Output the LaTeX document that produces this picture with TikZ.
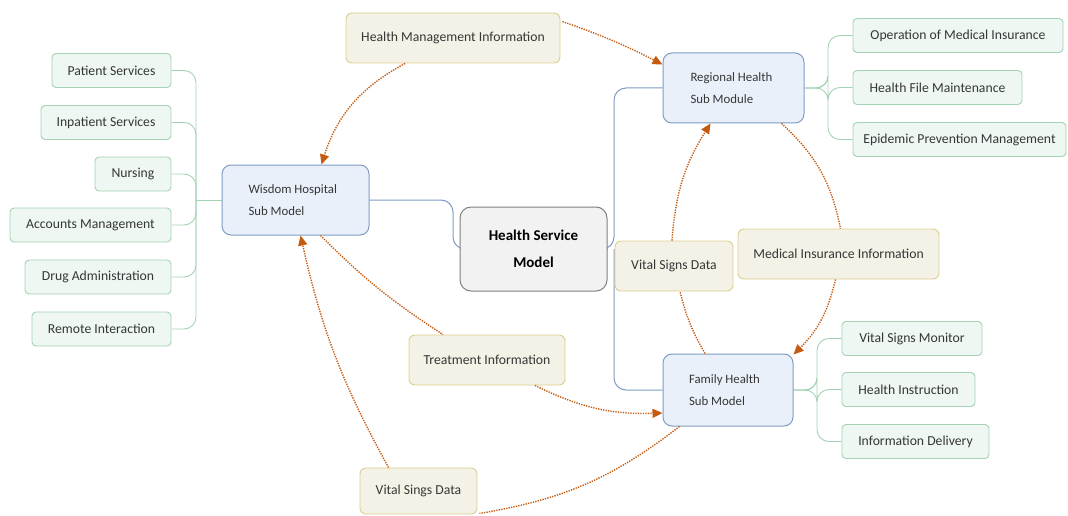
\documentclass[tikz,border=0pt]{standalone}
\usepackage{fontspec}
\setmainfont{Carlito}
\usetikzlibrary{arrows.meta,calc}
\definecolor{leaffill}{HTML}{EEF7F1}
\definecolor{leafline}{HTML}{A3D2B4}
\definecolor{bluefill}{HTML}{EAF0FA}
\definecolor{blueline}{HTML}{7E9CC3}
\definecolor{grayfill}{HTML}{F2F2F2}
\definecolor{grayline}{HTML}{808080}
\definecolor{beigefill}{HTML}{F4F2E6}
\definecolor{beigeline}{HTML}{DCCE8E}
\definecolor{flowcol}{HTML}{C55A11}
\definecolor{txt}{HTML}{363636}
\pgfdeclarelayer{bg}
\pgfsetlayers{bg,main}
\begin{document}
\begin{tikzpicture}[x=1pt,y=-1pt,
  leaf/.style={draw=leafline, fill=leaffill, line width=0.9pt, rounded corners=4pt,
    minimum height=34pt, inner sep=0pt, text=txt, font=\fontsize{13.7}{16}\selectfont},
  beige/.style={draw=beigeline, fill=beigefill, line width=0.9pt, rounded corners=6pt,
    minimum height=50pt, inner sep=0pt, text=txt, font=\fontsize{13.7}{16}\selectfont},
  sub/.style={draw=blueline, fill=bluefill, line width=1pt, rounded corners=9pt,
    minimum height=70pt, inner sep=0pt, text=txt, align=flush left,
    font=\fontsize{12.8}{22}\selectfont},
  root/.style={draw=grayline, fill=grayfill, line width=1pt, rounded corners=11pt,
    minimum width=147pt, minimum height=84pt, inner sep=0pt, text=black, align=center,
    font=\fontsize{15}{27}\selectfont\bfseries},
  leafwire/.style={draw=leafline, line width=0.9pt, rounded corners=12pt},
  bluewire/.style={draw=blueline, line width=1pt, rounded corners=12pt},
  flow/.style={draw=flowcol, line width=1.4pt, dash pattern=on 1.3pt off 1.2pt},
  flowarrow/.style={flow, -{Triangle[length=10pt,width=9pt]}}
]
\useasboundingbox (0,0) rectangle (1068,516);

% main nodes
\node[root] (hsm) at (533.5,249) {Health Service\\Model};
\node[sub, minimum width=147pt, text width=94pt] (ws) at (295.5,200) {Wisdom Hospital\\Sub Model};
\node[sub, minimum width=141pt, text width=86pt] (rh) at (733.5,88) {Regional Health\\Sub Module};
\node[sub, minimum width=130pt, minimum height=72pt, text width=78pt] (fh) at (728,390) {Family Health\\Sub Model};

% left leaves
\node[leaf, minimum width=119pt] (ps)   at (111.5,70.5) {Patient Services};
\node[leaf, minimum width=130pt] (ins)  at (106,122.5)  {Inpatient Services};
\node[leaf, minimum width=76pt]  (nur)  at (133,174)    {Nursing};
\node[leaf, minimum width=161pt] (acc)  at (90.5,225)   {Accounts Management};
\node[leaf, minimum width=146pt] (drug) at (98,277)     {Drug Administration};
\node[leaf, minimum width=139pt] (rem)  at (101.5,329)  {Remote Interaction};

% regional leaves
\node[leaf, minimum width=210pt] (omi) at (958,35.5)   {Operation of Medical Insurance};
\node[leaf, minimum width=169pt] (hfm) at (937.5,87.5) {Health File Maintenance};
\node[leaf, minimum width=213pt] (epm) at (959.5,139.5){Epidemic Prevention Management};

% family leaves
\node[leaf, minimum width=140pt] (vsm) at (912,338.5)   {Vital Signs Monitor};
\node[leaf, minimum width=133pt] (hi)  at (908.5,389.5) {Health Instruction};
\node[leaf, minimum width=147pt] (idl) at (915.5,441.5) {Information Delivery};

% beige labels
\node[beige, minimum width=214pt] (hmi)  at (453,38)    {Health Management Information};
\node[beige, minimum width=118pt] (vsd)  at (674,266)   {Vital Signs Data};
\node[beige, minimum width=201pt] (mii)  at (838.5,254) {Medical Insurance Information};
\node[beige, minimum width=156pt] (ti)   at (487,360)   {Treatment Information};
\node[beige, minimum width=117pt, minimum height=46pt] (vsd2) at (418.5,491) {Vital Sings Data};

% junction coordinates
\coordinate (wsj) at (196,200);
\coordinate (hsmj) at (453,249);
\coordinate (trunk) at (614,249);
\coordinate (rhj) at (828,88);
\coordinate (fhj) at (817,390);

\begin{pgfonlayer}{bg}
% left leaf wires
\foreach \n in {ps,ins,nur,acc,drug,rem}
  \draw[leafwire] (\n.east) -| (wsj);
\draw[leafwire] (wsj) -- (ws.west);
% regional leaf wires
\foreach \n in {omi,hfm,epm}
  \draw[leafwire] (rh.east) -- (rhj) |- (\n.west);
% family leaf wires
\foreach \n in {vsm,hi,idl}
  \draw[leafwire] (fh.east) -- (fhj) |- (\n.west);
% blue wires
\draw[bluewire] (ws.east) -| (hsmj) -- (hsm.west);
\draw[bluewire] (hsm.east) -- (trunk) |- (rh.west);
\draw[bluewire] (trunk) |- (fh.west);
\end{pgfonlayer}

% dotted flows
\draw[flowarrow] ($(hmi.south)+(-48,0)$) to[bend right=22] ($(ws.north)+(26,0)$);
\draw[flowarrow] ($(hmi.north east)+(2,9)$) to[bend left=4] ($(rh.north west)+(0,12)$);
\draw[flow] ($(rh.south)+(48,0)$) to[bend left=18] ($(mii.north)+(2,0)$);
\draw[flowarrow] ($(mii.south)+(-3,0)$) to[bend left=16] ($(fh.north east)+(0,1)$);
\draw[flow] ($(fh.north)+(-23,0)$) to[bend left=8] ($(vsd.south)+(6,0)$);
\draw[flowarrow] ($(vsd.north)+(-2,0)$) to[bend left=14] ($(rh.south)+(-23,0)$);
\draw[flow] ($(ws.south)+(25,0)$) to[bend right=6] ($(ti.north)+(-44,0)$);
\draw[flowarrow] ($(ti.south)+(48,0)$) to[bend right=14] ($(fh.west)+(0,23)$);
\draw[flow] ($(fh.south west)+(17,0)$) to[bend left=14] ($(vsd2.south east)+(2,-1)$);
\draw[flowarrow] ($(vsd2.north)+(-30,0)$) to[bend left=8] ($(ws.south)+(5,0)$);
\end{tikzpicture}
\end{document}
